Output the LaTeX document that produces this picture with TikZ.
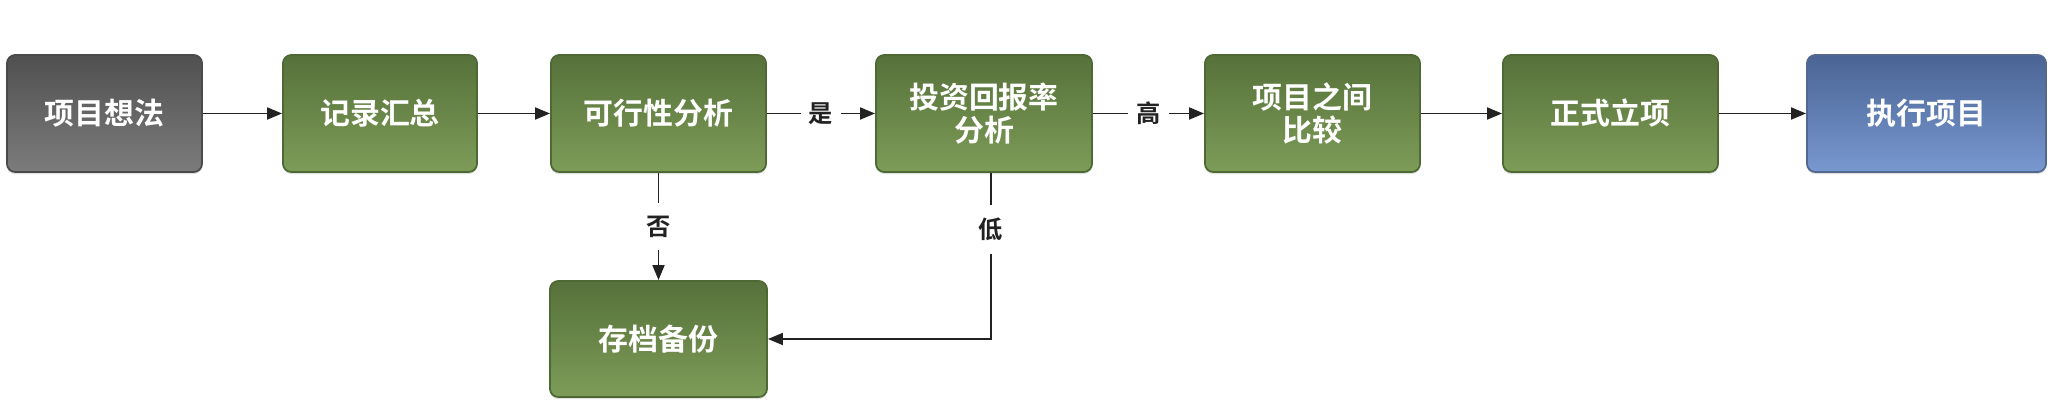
\documentclass[tikz,border=0pt]{standalone}
\usepackage{fontspec}
\newfontfamily\cjk{Noto Sans CJK SC}[BoldFont={Noto Sans CJK SC Bold}]
\usetikzlibrary{arrows.meta,shadows}

\definecolor{greytop}{HTML}{505050}
\definecolor{greybot}{HTML}{7C7C7C}
\definecolor{greyedge}{HTML}{4A4A4A}
\definecolor{greentop}{HTML}{56713A}
\definecolor{greenbot}{HTML}{7D9C58}
\definecolor{greenedge}{HTML}{4F6934}
\definecolor{bluetop}{HTML}{4A6494}
\definecolor{bluebot}{HTML}{7898D0}
\definecolor{blueedge}{HTML}{52688F}
\definecolor{linecol}{HTML}{222222}

\tikzset{
	box/.style={rounded corners=2.4pt, minimum height=1.17cm, inner sep=0pt, align=center,
		text=white, font=\cjk\bfseries\fontsize{8.5}{9.3}\selectfont, line width=0.5pt,
		drop shadow={opacity=0.25, shadow xshift=0pt, shadow yshift=-0.6pt}},
	greybox/.style={box, top color=greytop, bottom color=greybot, draw=greyedge},
	greenbox/.style={box, top color=greentop, bottom color=greenbot, draw=greenedge},
	bluebox/.style={box, top color=bluetop, bottom color=bluebot, draw=blueedge},
	flow/.style={draw=linecol, line width=0.55pt, -{Triangle[length=0.15cm,width=0.12cm]}},
	tag/.style={fill=white, text=linecol, inner xsep=0.08cm, inner ysep=0.13cm,
		font=\cjk\bfseries\fontsize{6.9}{7}\selectfont}
}

\begin{document}
\begin{tikzpicture}[x=0.01cm, y=-0.01cm]
	%%%%% START %%%%%
	\useasboundingbox (0, 0) rectangle (2066, 416);
	
	\node[greybox, minimum width=1.95cm] (idea) at (104.5, 113.5) {项目想法};
	\node[greenbox, minimum width=1.94cm] (record) at (380, 113.5) {记录汇总};
	\node[greenbox, minimum width=2.15cm] (feasible) at (658.5, 113.5) {可行性分析};
	\node[greenbox, minimum width=2.16cm] (roi) at (984, 113.5) {投资回报率\\分析};
	\node[greenbox, minimum width=2.15cm] (compare) at (1312.5, 113.5) {项目之间\\比较};
	\node[greenbox, minimum width=2.15cm] (approve) at (1610.5, 113.5) {正式立项};
	\node[bluebox, minimum width=2.39cm] (execute) at (1926.5, 113.5) {执行项目};
	
	\node[greenbox, minimum width=2.17cm, minimum height=1.16cm] (archive) at (658.5, 339) {存档备份};
	
	\draw[flow] (idea) -- (record);
	\draw[flow] (record) -- (feasible);
	\draw[flow] (feasible) -- node[tag] (yes) {是} (roi);
	\draw[flow] (roi) -- node[tag] (high) {高} (compare);
	\draw[flow] (compare) -- (approve);
	\draw[flow] (approve) -- (execute);
	
	\draw[flow] (feasible) -- node[tag] (no) {否} (archive);
	\draw[flow] ([xshift=2]roi.south) |- node[tag, pos=0.17] (low) {低} (archive.east);
	
	%%%%% END %%%%%
\end{tikzpicture}
\end{document}
